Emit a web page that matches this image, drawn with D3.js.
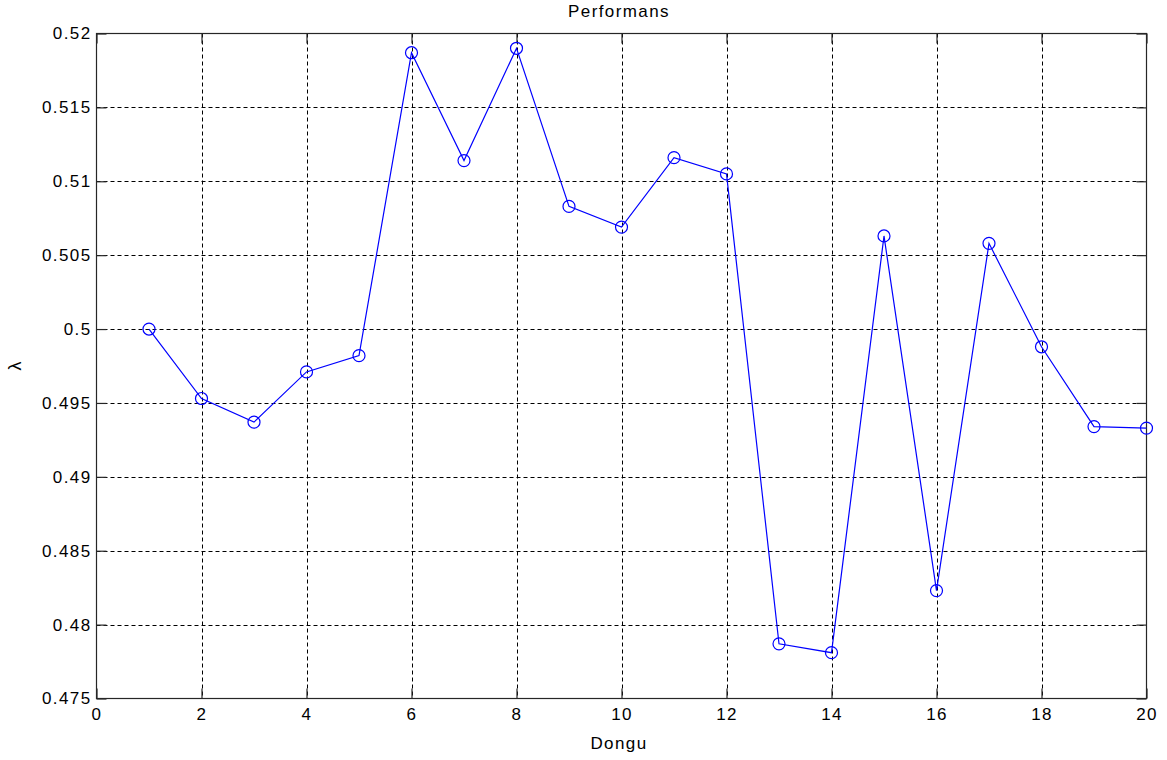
<!DOCTYPE html>
<html>
<head>
<meta charset="utf-8">
<script src="https://cdn.jsdelivr.net/npm/d3@7"></script>
<style>
  html, body { margin: 0; padding: 0; background: #fff; }
  svg { display: block; }
  text { font-family: "Liberation Sans", Arial, sans-serif; fill: #000; }
</style>
</head>
<body>
<svg id="chart" width="1167" height="760"></svg>
<script>
// Iteration index and measured performance value
const iterations = [1, 2, 3, 4, 5, 6, 7, 8, 9, 10, 11, 12, 13, 14, 15, 16, 17, 18, 19, 20];
const lambdaValues = [0.5000, 0.4953, 0.4937, 0.4971, 0.4982, 0.5187, 0.5114, 0.5190, 0.5083, 0.5069,
                      0.5116, 0.5105, 0.4787, 0.4781, 0.5063, 0.4823, 0.5058, 0.4988, 0.4934, 0.4933];
const xTicks = [0, 2, 4, 6, 8, 10, 12, 14, 16, 18, 20];
const yTicks = [0.475, 0.48, 0.485, 0.49, 0.495, 0.5, 0.505, 0.51, 0.515, 0.52];
const yTickLabels = ["0.475", "0.48", "0.485", "0.49", "0.495", "0.5", "0.505", "0.51", "0.515", "0.52"];

const svg = d3.select("#chart");
const margin = { left: 96.5, top: 33.5, right: 1146.5, bottom: 698.5 };

const x = d3.scaleLinear().domain([0, 20]).range([margin.left, margin.right]);
const y = d3.scaleLinear().domain([0.475, 0.52]).range([margin.bottom, margin.top]);

const axisColor = "#262626";
const fontSize = "17px";
const spacing = "1.4px";

// Dashed grid
const grid = svg.append("g");
grid.selectAll(".gx").data(xTicks.slice(1, -1)).enter().append("line")
  .attr("x1", d => Math.round(x(d)) + 0.5).attr("x2", d => Math.round(x(d)) + 0.5)
  .attr("y1", margin.top).attr("y2", margin.bottom)
  .attr("stroke", "#000").attr("stroke-width", 1).attr("stroke-dasharray", "4,3");
grid.selectAll(".gy").data(yTicks.slice(1, -1)).enter().append("line")
  .attr("y1", d => Math.round(y(d)) + 0.5).attr("y2", d => Math.round(y(d)) + 0.5)
  .attr("x1", margin.left).attr("x2", margin.right)
  .attr("stroke", "#000").attr("stroke-width", 1).attr("stroke-dasharray", "4,3");

// Axes: bottom and left with labels, top and right with inward ticks only
const tickLen = 10;
const xAxisB = d3.axisBottom(x).tickValues(xTicks).tickSize(-tickLen).tickPadding(9).tickFormat(d3.format("d"));
const xAxisT = d3.axisTop(x).tickValues(xTicks).tickSize(-tickLen).tickFormat("");
const yAxisL = d3.axisLeft(y).tickValues(yTicks).tickSize(-tickLen).tickPadding(5)
  .tickFormat((d, i) => yTickLabels[i]);
const yAxisR = d3.axisRight(y).tickValues(yTicks).tickSize(-tickLen).tickFormat("");

function styleAxis(g) {
  g.select(".domain").remove();
  g.selectAll(".tick line").attr("stroke", axisColor).attr("stroke-width", 1.2);
  g.selectAll(".tick text").attr("fill", "#000").style("font-size", fontSize)
    .style("letter-spacing", spacing)
    .style("font-family", "'Liberation Sans', Arial, sans-serif");
}
svg.append("g").attr("transform", `translate(0,${margin.bottom})`).call(xAxisB).call(styleAxis);
svg.append("g").attr("transform", `translate(0,${margin.top})`).call(xAxisT).call(styleAxis);
svg.append("g").attr("transform", `translate(${margin.left},0)`).call(yAxisL).call(styleAxis);
svg.append("g").attr("transform", `translate(${margin.right},0)`).call(yAxisR).call(styleAxis);

// Plot frame
svg.append("rect")
  .attr("x", margin.left).attr("y", margin.top)
  .attr("width", margin.right - margin.left).attr("height", margin.bottom - margin.top)
  .attr("fill", "none").attr("stroke", axisColor).attr("stroke-width", 1.2);

// Series line and circle markers
const pts = iterations.map((d, i) => [d, lambdaValues[i]]);
svg.append("path").datum(pts)
  .attr("d", d3.line().x(d => x(d[0])).y(d => y(d[1])))
  .attr("fill", "none").attr("stroke", "#0000ff").attr("stroke-width", 1.2);
svg.selectAll(".marker").data(pts).enter().append("circle")
  .attr("cx", d => x(d[0])).attr("cy", d => y(d[1])).attr("r", 6)
  .attr("fill", "none").attr("stroke", "#0000ff").attr("stroke-width", 1.2);

// Titles
svg.append("text").attr("x", 619).attr("y", 17)
  .attr("text-anchor", "middle").style("font-size", fontSize).style("letter-spacing", spacing).text("Performans");
svg.append("text").attr("x", 619).attr("y", 749)
  .attr("text-anchor", "middle").style("font-size", fontSize).style("letter-spacing", spacing).text("Dongu");
svg.append("text").attr("transform", `translate(21,366) rotate(-90)`)
  .attr("text-anchor", "middle").style("font-size", "18px").text("λ");
</script>
</body>
</html>
